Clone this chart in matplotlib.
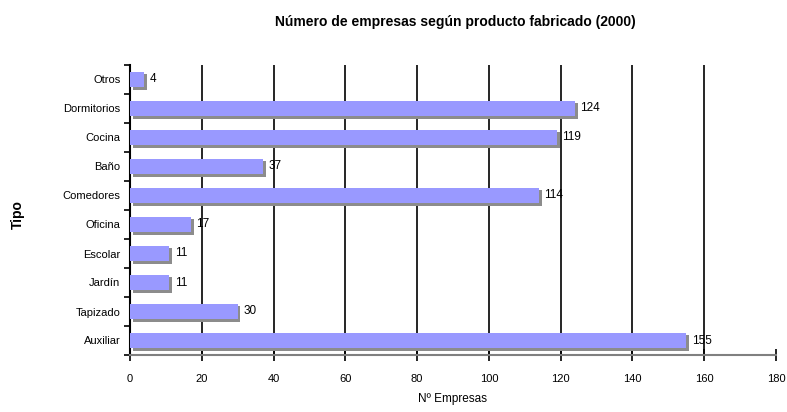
import matplotlib.pyplot as plt
import matplotlib.patheffects as pe
import numpy as np

categorias = ['Otros', 'Dormitorios', 'Cocina', 'Baño', 'Comedores',
              'Oficina', 'Escolar', 'Jardín', 'Tapizado', 'Auxiliar']
empresas = [4, 124, 119, 37, 114, 17, 11, 11, 30, 155]
xticks = [0, 20, 40, 60, 80, 100, 120, 140, 160, 180]

FONT = ['Liberation Sans', 'DejaVu Sans']
plt.rcParams['font.family'] = FONT


def main():
    fig = plt.figure(figsize=(7.87, 4.12), dpi=100)
    ax = fig.add_axes([130 / 787, 1 - 355 / 412, 646 / 787, 290 / 412])

    y = np.arange(len(categorias))
    shadow = [pe.SimplePatchShadow(offset=(2, -2), shadow_rgbFace='#8c8c8c', alpha=1), pe.Normal()]
    bars = ax.barh(y, empresas, height=0.55, color='#9999ff', zorder=3,
                   path_effects=shadow)
    for b, v in zip(bars, empresas):
        ax.text(b.get_width() + 1.5, b.get_y() + b.get_height() / 2, str(v),
                va='center', ha='left', fontsize=8.5, zorder=4)

    ax.set_xlim(0, 180)
    ax.set_ylim(len(categorias) - 0.5, -0.5)
    ax.set_xticks(xticks)
    ax.set_xticklabels([str(t) for t in xticks], fontsize=8)
    ax.set_yticks(y)
    ax.set_yticklabels(categorias, fontsize=8)
    ax.set_yticks(np.arange(-0.5, len(categorias), 1), minor=True)
    ax.tick_params(axis='y', which='major', length=0, pad=7)
    ax.tick_params(axis='y', which='minor', length=4, direction='out', width=1.2)
    ax.tick_params(axis='x', length=8, direction='inout', width=1.2, pad=10)

    for t in xticks[1:-1]:
        ax.axvline(t, color='black', lw=1.2, zorder=1)

    for s in ['top', 'right']:
        ax.spines[s].set_visible(False)
    ax.spines['left'].set_linewidth(1.5)
    ax.spines['bottom'].set_color('#808080')
    ax.spines['bottom'].set_linewidth(1.5)

    ax.set_xlabel('Nº Empresas', fontsize=8.5, labelpad=6)
    fig.text(18 / 787, 1 - 215 / 412, 'Tipo', rotation=90, ha='center', va='center',
             fontsize=10, fontweight='bold')
    fig.text(455 / 787, 1 - 22 / 412, 'Número de empresas según producto fabricado (2000)',
             ha='center', va='center', fontsize=10, fontweight='semibold')

    plt.savefig('out.png', dpi=100)


if __name__ == "__main__":
    main()
